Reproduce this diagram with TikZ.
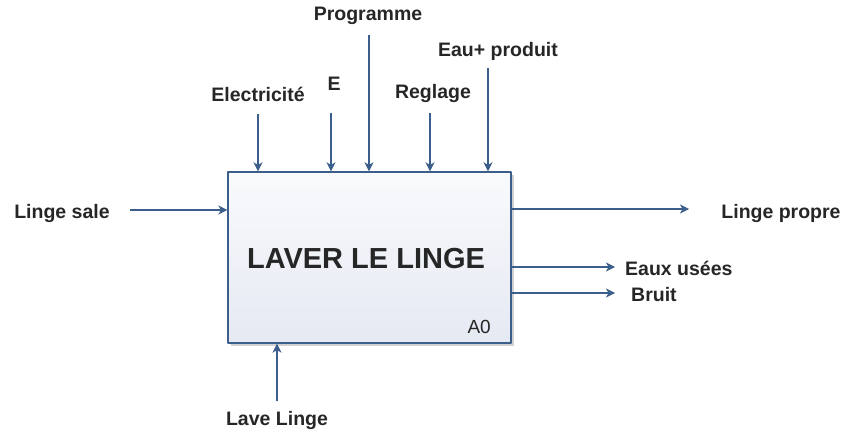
\documentclass[tikz,border=0pt]{standalone}
\usepackage{fontspec}
\setmainfont{Liberation Sans}
\usetikzlibrary{positioning,arrows.meta,shadows}
\definecolor{fleche}{RGB}{59,94,140}
\definecolor{texte}{RGB}{38,38,38}
\definecolor{fondhaut}{RGB}{249,250,252}
\definecolor{fondbas}{RGB}{229,233,242}
\tikzset{
  fl/.style={-{Stealth[length=9pt,width=9pt,inset=2.5pt]},draw=fleche,line width=1.3pt},
  lab/.style={text=texte,font=\fontsize{19.5}{22}\selectfont\bfseries,inner sep=0pt}
}
\begin{document}
\begin{tikzpicture}[x=1pt,y=-1pt,line join=round,line cap=butt]
			\useasboundingbox (0,0) rectangle (845,433);
			\node[draw=fleche,line width=1.3pt,top color=fondhaut,bottom color=fondbas,minimum width=283pt,minimum height=171pt,inner sep=0pt,
				drop shadow={shadow xshift=3pt,shadow yshift=-3pt,fill=black!18,opacity=1}] (laver) at (369.5,257.5) {};
			\node[text=texte,font=\fontsize{29}{32}\selectfont\bfseries] (titre) at (366,259) {LAVER LE LINGE};
			\node[text=texte,font=\fontsize{19}{22}\selectfont,anchor=south east,inner sep=0pt] (code) at (491,334) {A0};
			% controles
			\foreach \n/\x/\lx/\ly/\ay/\t in {elec/258/258/94/114/Electricit\'e,e/331/334/84/113/E,prog/369/368/16/35/Programme,regl/430/433/94/113/Reglage,eau/488/498/51/68/Eau+ produit}{
				\node[lab] (\n) at (\lx,\ly) {\t};
				\coordinate (d\n) at (\x,\ay);
				\draw[fl] (d\n) -- (d\n |- laver.north);
			}
			% entree
			\node[lab] (sale) at (62,213) {Linge sale};
			\coordinate (dsale) at (130,210);
			\draw[fl] (dsale) -- (dsale -| laver.west);
			% sorties
			\node[lab] (propre) at (781,213) {Linge propre};
			\node[lab,anchor=west] (usees) at (625,268) {Eaux usées};
			\node[lab,anchor=west] (bruit) at (631,295) {Bruit};
			\coordinate (fpropre) at (689,209);
			\coordinate (fusees) at (615,267);
			\coordinate (fbruit) at (615,293);
			\draw[fl] (fpropre -| laver.east) -- (fpropre);
			\draw[fl] (fusees -| laver.east) -- (fusees);
			\draw[fl] (fbruit -| laver.east) -- (fbruit);
			% mecanisme
			\node[lab] (lave) at (277,420) {Lave Linge};
			\coordinate (dlave) at (277,401);
			\draw[fl] (dlave) -- (dlave |- laver.south);
		\end{tikzpicture}
\end{document}
